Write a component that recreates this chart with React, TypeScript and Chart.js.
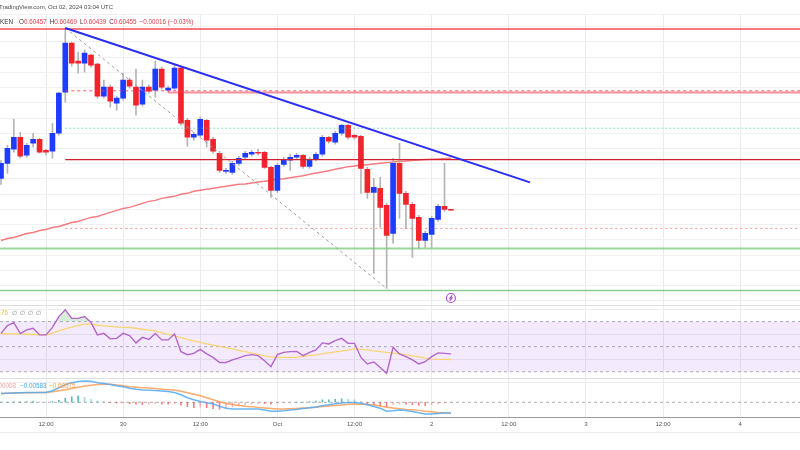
import React, { useEffect, useRef } from "react";
import { Chart, registerables } from "chart.js";
Chart.register(...registerables);

// ---------- data (hourly candles, hour index counted from Sep 29 00:00 UTC) ----------
const hours = [5, 6, 7, 8, 9, 10, 11, 12, 13, 14, 15, 16, 17, 18, 19, 20, 21, 22, 23, 24, 25, 26, 27, 28, 29, 30, 31, 32, 33, 34, 35, 36, 37, 38, 39, 40, 41, 42, 43, 44, 45, 46, 47, 48, 49, 50, 51, 52, 53, 54, 55, 56, 57, 58, 59, 60, 61, 62, 63, 64, 65, 66, 67, 68, 69, 70, 71, 72, 73, 74, 75];

const opens = [
  0.6141, 0.6186, 0.6228, 0.6264, 0.621, 0.6246, 0.6258, 0.6225, 0.6222, 0.6276,
  0.6399, 0.6546, 0.6492, 0.6486, 0.651, 0.6483, 0.6387, 0.6414, 0.6366, 0.6381,
  0.6435, 0.6414, 0.6363, 0.6414, 0.6405, 0.6468, 0.6405, 0.6411, 0.6471, 0.6315,
  0.6264, 0.627, 0.6315, 0.6258, 0.6216, 0.6162, 0.6159, 0.6186, 0.6204, 0.6213,
  0.6219, 0.6219, 0.6174, 0.6105, 0.6183, 0.6195, 0.6204, 0.621, 0.6177, 0.6198,
  0.6213, 0.6264, 0.6249, 0.6276, 0.63, 0.627, 0.6267, 0.6168, 0.6099, 0.6111,
  0.606, 0.5976, 0.6186, 0.6096, 0.6063, 0.6024, 0.5955, 0.5973, 0.6018, 0.6057, 0.60457,
];
const highs = [
  0.6195, 0.624, 0.6318, 0.6279, 0.6246, 0.6276, 0.6261, 0.6228, 0.6306, 0.6399,
  0.6591, 0.6549, 0.6519, 0.6525, 0.6513, 0.6486, 0.6435, 0.642, 0.6387, 0.6456,
  0.6441, 0.6468, 0.6435, 0.642, 0.6492, 0.6474, 0.6417, 0.648, 0.6477, 0.6321,
  0.6279, 0.6324, 0.6318, 0.6264, 0.6222, 0.6171, 0.6192, 0.6207, 0.6222, 0.6225,
  0.6228, 0.6222, 0.6177, 0.6186, 0.6204, 0.6213, 0.6216, 0.6213, 0.6204, 0.6219,
  0.627, 0.6267, 0.6282, 0.6303, 0.6303, 0.6273, 0.627, 0.6174, 0.6141, 0.6144,
  0.6066, 0.6201, 0.6246, 0.6102, 0.6069, 0.603, 0.5982, 0.6027, 0.6063, 0.6186, 0.60469,
];
const lows = [
  0.6123, 0.6156, 0.6219, 0.6201, 0.6204, 0.6234, 0.6216, 0.621, 0.6201, 0.627,
  0.6369, 0.6477, 0.6456, 0.6459, 0.6474, 0.6381, 0.6381, 0.6354, 0.6345, 0.6375,
  0.6411, 0.633, 0.6357, 0.6396, 0.6384, 0.6408, 0.6399, 0.6405, 0.63, 0.6237,
  0.6255, 0.6264, 0.6234, 0.6216, 0.6159, 0.6156, 0.6153, 0.618, 0.6198, 0.6207,
  0.621, 0.6171, 0.6084, 0.6099, 0.6177, 0.6165, 0.6198, 0.6171, 0.6171, 0.6192,
  0.6207, 0.6246, 0.6243, 0.627, 0.6258, 0.6258, 0.6096, 0.6081, 0.5856, 0.5994,
  0.5811, 0.5946, 0.6021, 0.5991, 0.5904, 0.5931, 0.5934, 0.5934, 0.6012, 0.6042, 0.60439,
];
const closes = [
  0.6186, 0.6231, 0.6264, 0.6207, 0.624, 0.6258, 0.6219, 0.6219, 0.6276, 0.6396,
  0.6546, 0.6486, 0.6486, 0.6516, 0.648, 0.6387, 0.6414, 0.6372, 0.6381, 0.6435,
  0.6417, 0.636, 0.6414, 0.6402, 0.6468, 0.6414, 0.6411, 0.6471, 0.6306, 0.6264,
  0.6273, 0.6318, 0.6255, 0.6222, 0.6165, 0.6165, 0.6186, 0.6201, 0.6216, 0.6219,
  0.6216, 0.6174, 0.6105, 0.618, 0.6198, 0.6204, 0.621, 0.6177, 0.6198, 0.6213,
  0.6264, 0.6252, 0.6276, 0.63, 0.6264, 0.6264, 0.6171, 0.6099, 0.6114, 0.6054,
  0.597, 0.6186, 0.6096, 0.6063, 0.6021, 0.5955, 0.5976, 0.6021, 0.6057, 0.6048, 0.60455,
];
const movingAverage = [
  0.5955, 0.5961, 0.5964, 0.597, 0.5976, 0.5979, 0.5985, 0.5988, 0.5994, 0.5997,
  0.6003, 0.6009, 0.6012, 0.6018, 0.6024, 0.6027, 0.6033, 0.6039, 0.6045, 0.6051,
  0.6054, 0.606, 0.6066, 0.6072, 0.6075, 0.6081, 0.6084, 0.6087, 0.6093, 0.6096,
  0.6102, 0.6105, 0.6108, 0.6111, 0.6114, 0.6117, 0.612, 0.6123, 0.6124, 0.6127,
  0.613, 0.6132, 0.6135, 0.6138, 0.614, 0.6143, 0.6146, 0.6149, 0.6153, 0.6157,
  0.616, 0.6164, 0.6168, 0.6172, 0.6176, 0.6178, 0.618, 0.6182, 0.6184, 0.6186,
  0.6188, 0.619, 0.6192, 0.6193, 0.6194, 0.6196, 0.6197, 0.6198, 0.6199, 0.62, 0.6201,
];
const rsi = [
  60.6, 66.8, 69.2, 60.4, 63.4, 64.6, 59.4, 59.4, 65.4, 74.0,
  79.4, 72.6, 72.6, 74.0, 69.4, 59.4, 60.6, 56.2, 56.6, 60.6,
  58.8, 53.0, 57.4, 55.8, 60.6, 55.4, 55.4, 60.2, 46.0, 43.6,
  44.6, 47.8, 44.2, 41.4, 37.4, 37.4, 39.4, 41.0, 42.8, 43.6,
  42.8, 38.8, 34.0, 43.6, 45.4, 46.0, 46.2, 42.8, 45.4, 47.4,
  53.0, 52.2, 54.8, 56.6, 52.6, 52.6, 41.4, 36.2, 37.8, 33.4,
  28.6, 49.4, 44.2, 42.0, 39.4, 36.2, 38.0, 42.0, 45.0, 44.6, 44.2,
];
const rsiMa = [
  60.4, 60.3, 60.2, 60.2, 59.9, 59.7, 59.4, 59.4, 60.9, 62.6,
  64.2, 65.6, 66.8, 68.0, 68.1, 67.1, 66.6, 66.2, 65.8, 65.4,
  65.3, 64.7, 63.9, 63.3, 62.5, 61.3, 59.9, 58.6, 57.2, 55.8,
  54.6, 53.4, 52.3, 51.3, 50.2, 49.2, 48.2, 47.1, 46.0, 44.8,
  43.8, 42.6, 41.8, 41.4, 41.4, 41.4, 41.4, 42.2, 42.8, 43.4,
  44.2, 45.0, 45.8, 46.4, 47.3, 48.2, 47.8, 47.4, 46.6, 46.0,
  45.4, 44.8, 44.2, 43.4, 42.6, 41.8, 40.9, 40.2, 39.9, 39.8, 39.76,
];
const macdLine = [
  0.00475, 0.00491, 0.00502, 0.00513, 0.00524, 0.00529, 0.00529, 0.00529, 0.00621, 0.00783,
  0.00945, 0.01053, 0.01118, 0.0115, 0.01134, 0.01053, 0.0101, 0.00961, 0.00891, 0.00837,
  0.00756, 0.00702, 0.00659, 0.00648, 0.00632, 0.0061, 0.00578, 0.00529, 0.00405, 0.00243,
  0.00135, 0.00043, -0.00027, -0.00097, -0.00216, -0.00324, -0.00362, -0.00367, -0.00367, -0.00367,
  -0.00367, -0.00421, -0.00486, -0.00486, -0.00459, -0.00421, -0.00389, -0.0034, -0.00297, -0.00254,
  -0.00189, -0.00135, -0.00081, -0.00038, -0.00011, -0.00011, -0.00054, -0.00135, -0.00227, -0.00324,
  -0.00486, -0.00459, -0.00421, -0.00448, -0.00497, -0.00567, -0.00637, -0.00637, -0.0061, -0.00583, -0.00583,
];
const signalLine = [
  0.00475, 0.00486, 0.00497, 0.00508, 0.00513, 0.00518, 0.00524, 0.00529, 0.00567, 0.00621,
  0.00675, 0.00745, 0.0081, 0.00875, 0.00923, 0.00961, 0.00977, 0.00967, 0.00934, 0.00891,
  0.00837, 0.0081, 0.00788, 0.00767, 0.0074, 0.00707, 0.0068, 0.00659, 0.00594, 0.00513,
  0.00432, 0.00351, 0.00243, 0.00135, 0.00027, -0.00065, -0.00124, -0.00173, -0.00216, -0.00243,
  -0.00275, -0.00308, -0.0034, -0.00367, -0.00362, -0.00351, -0.00335, -0.00313, -0.00297, -0.0027,
  -0.00232, -0.002, -0.00178, -0.00146, -0.00113, -0.00097, -0.00103, -0.00124, -0.00146, -0.002,
  -0.0027, -0.00313, -0.00351, -0.00383, -0.00405, -0.00437, -0.00481, -0.00513, -0.00545, -0.00567, -0.00575,
];
const histogram = [
  0.00016, 0.00016, 0.00027, 0.00027, 0.00043, 0.00054, 0.00027, 0.00016, 0.00054, 0.00108,
  0.00216, 0.00297, 0.00351, 0.0027, 0.00162, 0.00081, 0.00043, -0.00027, -0.00054, -0.00043,
  -0.00081, -0.00108, -0.00135, -0.00108, -0.00081, -0.00108, -0.00108, -0.00081, -0.00162, -0.00243,
  -0.00297, -0.0027, -0.00297, -0.00351, -0.00378, -0.00351, -0.0027, -0.00189, -0.00135, -0.00108,
  -0.00081, -0.00081, -0.00108, -0.00054, -0.00027, -0.00016, 0.00016, 0.00016, 0.00043, 0.00065,
  0.00135, 0.00135, 0.00162, 0.00189, 0.00162, 0.00135, 0.00027, -0.00081, -0.00135, -0.00189,
  -0.00243, -0.00135, -0.00108, -0.00108, -0.00135, -0.00162, -0.00189, -0.00135, -0.00081, -0.00043, -0.00008,
];

// horizontal levels drawn on the price pane
const levelPrices = [0.6588, 0.6403, 0.6398, 0.6291, 0.6197, 0.5991, 0.5931, 0.5805];
const levelStartHours = [4.84, 15, 31, 15, 15, 15, 4.84, 4.84];
// trend lines [hour, price]
const trendLine = [[15, 0.6591], [87.3, 0.6129]];
const swingLine = [[15, 0.6591], [65, 0.5811]];
// RSI guide levels
const rsiLevels = [70, 50, 30];

// header texts
const symbolText = "KRAKEN";
const sourceText = "TradingView.com, Oct 02, 2024 03:04 UTC";
const changeText = "\u22120.00016 (\u22120.03%)";

// axis ticks
const xTicks = [12, 24, 36, 48, 60, 72, 84, 96, 108, 120];
const xTickLabels = ["12:00", "30", "12:00", "Oct", "12:00", "2", "12:00", "3", "12:00", "4"];
const priceGrid = [0.57744, 0.582, 0.58656, 0.59112, 0.59568, 0.60024, 0.6048, 0.60936, 0.61392, 0.61848, 0.62304, 0.6276, 0.63216, 0.63672, 0.64128, 0.64584, 0.6504, 0.65496, 0.65952, 0.6633];
const rsiGrid = [82.8, 80, 60, 40, 24.8];
const rsiSeparators = [82.8, 24.8];
const macdGrid = [0.01053];

// ---------- layout / style ----------
const X_MIN = 4.843;
const X_MAX = 129.31;
const PRICE_MIN = 0.5424;
const PRICE_MAX = 0.6633;
const RSI_MIN = -6.8;
const RSI_MAX = 315.6;
const MACD_MIN = -0.00837;
const MACD_MAX = 0.20925;

const FONT = "'Liberation Sans', Arial, sans-serif";
const UP = "#1e3cff";
const DOWN = "#f3232c";
const levelColors = ["rgba(242,54,69,0.9)", "rgba(242,54,69,0.8)", "rgba(242,54,69,0.55)", "rgba(38,190,160,0.55)", "#d0202b", "rgba(242,54,69,0.55)", "rgba(120,200,125,0.75)", "rgba(110,190,115,0.8)"];
const levelWidths = [1.5, 1, 2, 1, 1.2, 1, 2, 1.5];
const levelDashes = [[], [3, 3], [], [2, 2], [], [2, 3], [], []];

const fmt = (v: number) => (v < 0 ? "\u2212" + Math.abs(v).toFixed(5) : v.toFixed(5));

const overlayPlugin = {
  id: "overlayText",
  afterDraw(chart: any) {
    const { ctx, scales } = chart;
    const n = hours.length - 1;
    ctx.save();
    ctx.textBaseline = "middle";
    ctx.font = `6px ${FONT}`;
    ctx.fillStyle = "#4a4a4a";
    ctx.fillText(sourceText, -1, 7);

    // symbol legend
    ctx.font = `6.3px ${FONT}`;
    ctx.textAlign = "right";
    ctx.fillStyle = "#333";
    ctx.fillText(symbolText, 13, 22);
    ctx.textAlign = "left";
    let x = 19;
    const parts: [string, number][] = [["O", opens[n]], ["H", highs[n]], ["L", lows[n]], ["C", closes[n]]];
    for (const [lab, val] of parts) {
      ctx.fillStyle = "#333";
      ctx.fillText(lab, x, 22);
      x += ctx.measureText(lab).width;
      ctx.fillStyle = "#d9414b";
      const t = val.toFixed(5);
      ctx.fillText(t, x, 22);
      x += ctx.measureText(t).width + 3;
    }
    ctx.fillStyle = "#d9414b";
    ctx.fillText(changeText, x, 22);

    // RSI legend
    ctx.textAlign = "right";
    ctx.fillStyle = "#e8c23a";
    ctx.fillText(rsiMa[n].toFixed(2), 8, 313);
    ctx.textAlign = "left";
    ctx.fillStyle = "#8a8a8a";
    ["\u2205", "\u2205", "\u2205", "\u2205"].forEach((s, i) => ctx.fillText(s, 12 + i * 8, 313));

    // MACD legend
    ctx.textAlign = "right";
    ctx.fillStyle = "#f4a3a8";
    ctx.fillText(fmt(histogram[n]), 16, 386);
    ctx.textAlign = "left";
    ctx.fillStyle = "#4aa8f0";
    ctx.fillText(fmt(macdLine[n]), 20, 386);
    ctx.fillStyle = "#ff9a4a";
    ctx.fillText(fmt(signalLine[n]), 49, 386);

    // event marker
    const ex = scales.x.getPixelForValue(hours[n]);
    ctx.strokeStyle = "#b04fc8";
    ctx.lineWidth = 1.2;
    ctx.beginPath();
    ctx.arc(ex, 298, 4.5, 0, Math.PI * 2);
    ctx.stroke();
    ctx.beginPath();
    ctx.moveTo(ex + 1.2, 295.3);
    ctx.lineTo(ex - 1, 298.3);
    ctx.lineTo(ex + 1, 298);
    ctx.lineTo(ex - 1.2, 300.8);
    ctx.stroke();

    // bottom rule under time axis
    ctx.strokeStyle = "#ececec";
    ctx.lineWidth = 1;
    ctx.beginPath();
    ctx.moveTo(0, 432.5);
    ctx.lineTo(800, 432.5);
    ctx.stroke();
    ctx.restore();
  },
};

export default function App() {
  const ref = useRef<HTMLCanvasElement>(null);
  useEffect(() => {
    const candleColors = hours.map((_, i) => (closes[i] >= opens[i] ? UP : DOWN));
    const histColors = histogram.map((v, i) => {
      const prev = i > 0 ? histogram[i - 1] : v;
      if (v >= 0) return v >= prev ? "rgba(38,166,154,0.75)" : "rgba(38,166,154,0.4)";
      return v <= prev ? "rgba(255,82,82,0.75)" : "rgba(255,82,82,0.4)";
    });
    const line = (xs: number[], ys: number[]) => xs.map((h, i) => ({ x: h, y: ys[i] }));

    const levelSets = levelPrices.map((p, i) => ({
      type: "line" as const,
      data: [{ x: levelStartHours[i], y: p }, { x: X_MAX, y: p }],
      borderColor: levelColors[i],
      borderWidth: levelWidths[i],
      borderDash: levelDashes[i],
      pointRadius: 0,
      yAxisID: "y",
      order: 3,
    }));
    const rsiGuideSets = rsiLevels.map((v) => ({
      type: "line" as const,
      data: [{ x: X_MIN, y: v }, { x: X_MAX, y: v }],
      borderColor: "rgba(140,140,160,0.7)",
      borderWidth: 1,
      borderDash: [3, 3],
      pointRadius: 0,
      yAxisID: "rsi",
      order: 12,
    }));

    const chart = new Chart(ref.current as HTMLCanvasElement, {
      type: "bar",
      data: {
        datasets: [
          {
            type: "line",
            data: line(hours, movingAverage),
            borderColor: "rgba(242,80,85,0.75)",
            borderWidth: 1.5,
            pointRadius: 0,
            yAxisID: "y",
            order: 20,
          },
          {
            type: "bar",
            data: hours.map((h, i) => ({ x: h, y: [lows[i], highs[i]] })),
            backgroundColor: "#b4b4b4",
            barThickness: 1,
            grouped: false,
            yAxisID: "y",
            order: 6,
          },
          {
            type: "bar",
            data: hours.map((h, i) => ({ x: h, y: [opens[i], closes[i]] })),
            backgroundColor: candleColors,
            barThickness: 5,
            minBarLength: 1,
            grouped: false,
            yAxisID: "y",
            order: 5,
          },
          ...levelSets,
          {
            type: "line",
            data: trendLine.map(([h, p]) => ({ x: h, y: p })),
            borderColor: "#2a2df2",
            borderWidth: 2,
            pointRadius: 0,
            yAxisID: "y",
            order: 2,
          },
          {
            type: "line",
            data: swingLine.map(([h, p]) => ({ x: h, y: p })),
            borderColor: "#a0a0a0",
            borderWidth: 1,
            borderDash: [3, 3],
            pointRadius: 0,
            yAxisID: "y",
            order: 4,
          },
          // RSI pane
          {
            type: "line",
            data: [{ x: X_MIN, y: 70 }, { x: X_MAX, y: 70 }],
            borderWidth: 0,
            pointRadius: 0,
            fill: { target: { value: 30 } },
            backgroundColor: "rgba(160,90,240,0.13)",
            yAxisID: "rsi",
            order: 13,
          },
          ...rsiGuideSets,
          {
            type: "line",
            data: line(hours, rsiMa),
            borderColor: "rgba(250,210,90,0.85)",
            borderWidth: 1.3,
            pointRadius: 0,
            yAxisID: "rsi",
            order: 11,
          },
          {
            type: "line",
            data: line(hours, rsi),
            borderColor: "rgba(0,0,0,0)",
            borderWidth: 0,
            pointRadius: 0,
            fill: { target: { value: 30 }, above: "rgba(0,0,0,0)", below: "rgba(242,54,69,0.2)" },
            yAxisID: "rsi",
            order: 10,
          },
          {
            type: "line",
            data: line(hours, rsi),
            borderColor: "#b565cc",
            borderWidth: 1.4,
            pointRadius: 0,
            fill: { target: { value: 70 }, above: "rgba(76,175,80,0.22)", below: "rgba(0,0,0,0)" },
            yAxisID: "rsi",
            order: 9,
          },
          // MACD pane
          {
            type: "line",
            data: [{ x: X_MIN, y: 0 }, { x: X_MAX, y: 0 }],
            borderColor: "rgba(140,140,140,0.7)",
            borderWidth: 1,
            borderDash: [3, 3],
            pointRadius: 0,
            yAxisID: "macd",
            order: 12,
          },
          {
            type: "bar",
            data: line(hours, histogram),
            backgroundColor: histColors,
            barThickness: 1,
            grouped: false,
            yAxisID: "macd",
            order: 11,
          },
          {
            type: "line",
            data: line(hours, signalLine),
            borderColor: "rgba(255,150,70,0.8)",
            borderWidth: 1.5,
            pointRadius: 0,
            yAxisID: "macd",
            order: 10,
          },
          {
            type: "line",
            data: line(hours, macdLine),
            borderColor: "rgba(80,170,245,0.85)",
            borderWidth: 1.5,
            pointRadius: 0,
            yAxisID: "macd",
            order: 9,
          },
        ] as any,
      },
      options: {
        responsive: false,
        devicePixelRatio: 1,
        animation: false,
        events: [],
        layout: { padding: { top: 14, bottom: 19, left: 0, right: 0 } },
        plugins: { legend: { display: false }, tooltip: { enabled: false } },
        scales: {
          x: {
            type: "linear",
            min: X_MIN,
            max: X_MAX,
            offset: false,
            position: "bottom",
            afterBuildTicks: (s: any) => {
              s.ticks = xTicks.map((v) => ({ value: v }));
            },
            ticks: {
              autoSkip: false,
              maxRotation: 0,
              padding: 3,
              color: "#555",
              font: { size: 6, family: FONT },
              callback: (_v: any, i: number) => xTickLabels[i],
            },
            grid: { color: "#ebebeb", drawTicks: false, offset: false },
            border: { display: true, color: "#9a9a9a", width: 1 },
          },
          y: {
            type: "linear",
            position: "left",
            min: PRICE_MIN,
            max: PRICE_MAX,
            afterBuildTicks: (s: any) => {
              s.ticks = priceGrid.map((v) => ({ value: v }));
            },
            ticks: { display: false },
            grid: { color: "#f0f0f0", drawTicks: false },
            border: { display: false },
          },
          rsi: {
            type: "linear",
            position: "left",
            min: RSI_MIN,
            max: RSI_MAX,
            afterBuildTicks: (s: any) => {
              s.ticks = rsiGrid.map((v) => ({ value: v }));
            },
            ticks: { display: false },
            grid: {
              drawTicks: false,
              color: (c: any) => (rsiSeparators.includes(c.tick?.value) ? "#dedede" : "#ececec"),
            },
            border: { display: false },
          },
          macd: {
            type: "linear",
            position: "left",
            min: MACD_MIN,
            max: MACD_MAX,
            afterBuildTicks: (s: any) => {
              s.ticks = macdGrid.map((v) => ({ value: v }));
            },
            ticks: { display: false },
            grid: { color: "#ececec", drawTicks: false },
            border: { display: false },
          },
        },
      } as any,
      plugins: [overlayPlugin],
    });
    return () => chart.destroy();
  }, []);

  return (
    <div style={{ position: "fixed", left: 0, top: 0, width: 800, height: 450, background: "#fff" }}>
      <canvas ref={ref} width={800} height={450} style={{ display: "block", width: 800, height: 450 }} />
    </div>
  );
}
